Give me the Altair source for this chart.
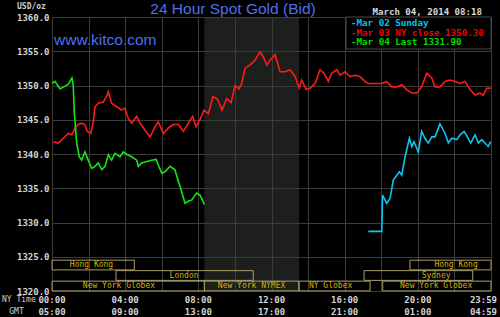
import altair as alt
import pandas as pd

# ---------------- data ----------------
# Mar 03 (NY close 1350.30) - red, hours NY time
red_h = [0.07, 0.34, 0.62, 0.89, 1.08, 1.26, 1.44, 1.62, 1.80, 1.93, 2.12, 2.26, 2.35, 2.53, 2.80,
         2.99, 3.08, 3.26, 3.54, 3.81, 3.99, 4.17, 4.36, 4.63, 4.81, 5.08, 5.36, 5.63, 5.81, 6.09,
         6.36, 6.63, 6.91, 7.18, 7.45, 7.69, 7.87, 8.09, 8.31, 8.55, 8.80, 9.05, 9.29, 9.55, 9.79,
         10.01, 10.22, 10.37, 10.55, 10.83, 11.10, 11.37, 11.55, 11.74, 11.92, 12.19, 12.47, 12.74,
         13.01, 13.29, 13.52, 13.65, 13.89, 14.11, 14.38, 14.65, 14.87, 15.11, 15.29, 15.57, 15.75,
         16.02, 16.29, 16.57, 16.84, 17.11, 17.29, 18.03, 18.30, 18.57, 18.85, 19.12, 19.39, 19.67,
         19.94, 20.21, 20.49, 20.76, 20.94, 21.21, 21.49, 21.76, 22.03, 22.31, 22.58, 22.85, 23.13,
         23.40, 23.58, 23.77, 23.99]
red_v = [1341.8, 1341.6, 1342.3, 1343.0, 1342.8, 1343.8, 1344.3, 1344.5, 1344.3, 1343.3, 1343.0,
         1344.7, 1346.9, 1347.4, 1347.6, 1348.4, 1349.1, 1347.4, 1346.9, 1346.4, 1346.7, 1345.2,
         1344.5, 1345.5, 1344.5, 1343.5, 1342.5, 1344.0, 1344.7, 1343.0, 1343.8, 1344.3, 1344.3,
         1343.3, 1344.5, 1345.5, 1344.0, 1345.0, 1346.4, 1345.9, 1348.4, 1348.0, 1346.4, 1348.1,
         1347.5, 1350.0, 1349.5, 1350.3, 1352.5, 1353.0, 1353.7, 1354.9, 1354.2, 1353.0, 1353.7,
         1354.5, 1352.0, 1352.0, 1352.3, 1351.3, 1349.6, 1350.8, 1349.4, 1349.6, 1350.3, 1352.3,
         1351.8, 1350.6, 1351.8, 1352.3, 1351.5, 1352.0, 1351.3, 1351.5, 1351.3, 1350.6, 1350.3,
         1350.3, 1350.6, 1349.8, 1349.8, 1350.1, 1349.4, 1348.9, 1348.9, 1349.8, 1351.8, 1351.1,
         1349.8, 1349.8, 1350.6, 1350.8, 1350.6, 1350.3, 1350.6, 1349.4, 1348.6, 1348.9, 1348.6,
         1349.6, 1349.6]

# Mar 04 (Last 1331.90) - green
green_h = [0.0, 0.16, 0.44, 0.71, 0.89, 1.09, 1.16, 1.22, 1.35, 1.49, 1.62, 1.80, 1.98, 2.17, 2.35,
           2.53, 2.72, 2.90, 3.08, 3.26, 3.44, 3.72, 3.90, 4.12, 4.36, 4.63, 4.72, 4.90, 5.18, 5.45,
           5.69, 5.81, 6.00, 6.18, 6.45, 6.72, 6.91, 7.09, 7.27, 7.45, 7.64, 7.91, 8.09, 8.22, 8.33]
green_v = [1350.3, 1350.6, 1349.5, 1349.9, 1350.2, 1351.1, 1350.1, 1346.0, 1341.6, 1339.6, 1339.1,
           1340.3, 1339.1, 1337.9, 1338.2, 1338.7, 1337.7, 1338.2, 1339.9, 1339.1, 1340.1, 1339.6,
           1340.3, 1339.9, 1339.6, 1339.1, 1338.2, 1338.7, 1338.9, 1339.1, 1339.2, 1338.4, 1337.2,
           1337.4, 1338.2, 1337.7, 1336.0, 1334.5, 1332.8, 1333.1, 1333.3, 1334.3, 1334.0, 1333.3,
           1332.6]

# Mar 02 (Sunday) - cyan
cyan_h = [17.29, 18.03, 18.07, 18.30, 18.48, 18.66, 18.85, 18.99, 19.12, 19.30, 19.54, 19.67, 19.79,
          20.03, 20.21, 20.39, 20.57, 20.76, 20.94, 21.21, 21.49, 21.67, 21.85, 22.13, 22.31, 22.53,
          22.71, 22.89, 23.13, 23.31, 23.49, 23.67, 23.85, 23.98]
cyan_v = [1328.7, 1328.7, 1334.0, 1332.8, 1333.5, 1336.2, 1336.9, 1337.4, 1336.9, 1339.6, 1342.3,
          1341.1, 1341.8, 1340.3, 1343.3, 1342.3, 1341.6, 1342.5, 1342.5, 1344.4, 1343.0, 1341.6,
          1342.3, 1342.1, 1342.8, 1343.3, 1342.5, 1341.6, 1342.8, 1341.6, 1342.1, 1341.6, 1341.1,
          1341.8]

series_names = ["Mar 02", "Mar 03", "Mar 04"]
series_colors = ["#10c4f0", "#ff1a1a", "#14e614"]
legend_texts = ["-Mar 02 Sunday", "-Mar 03 NY close 1350.30", "-Mar 04 Last 1331.90"]
legend_colors = ["#00c0ec", "#ee0000", "#00d800"]

# trading sessions (NY time hours)
sess_start = [0.0, 19.57, 3.5, 17.06, 0.0, 8.33, 13.5, 18.08]
sess_end = [4.5, 24.0, 11.0, 23.0, 8.33, 13.5, 17.39, 24.0]
sess_row = [0, 0, 1, 1, 2, 2, 2, 2]
sess_label = ["Hong Kong", "Hong Kong", "London", "Sydney", "New York Globex",
              "New York NYMEX", "NY Globex", "New York Globex"]
sess_label_h = [2.16, 22.09, 7.22, 21.0, 3.66, 10.91, 15.23, 21.0]

# NYMEX shaded period
shade_start = [8.33]
shade_end = [13.5]

# bottom time labels
tick_h = [0, 4, 8, 12, 16, 20]
ny_labels = ["00:00", "04:00", "08:00", "12:00", "16:00", "20:00"]
gmt_labels = ["05:00", "09:00", "13:00", "17:00", "21:00", "01:00"]
last_h = [24]
last_ny = ["23:59"]
last_gmt = ["04:59"]

# ---------------- tables ----------------
lines = pd.concat([
    pd.DataFrame({"h": red_h, "v": red_v, "s": series_names[1], "o": 0}),
    pd.DataFrame({"h": green_h, "v": green_v, "s": series_names[2], "o": 1}),
    pd.DataFrame({"h": cyan_h, "v": cyan_v, "s": series_names[0], "o": 2}),
])
sessions = pd.DataFrame({"h": sess_start, "h2": sess_end, "row": sess_row,
                         "label": sess_label, "lh": sess_label_h})
shade = pd.DataFrame({"h": shade_start, "h2": shade_end})
ticks = pd.DataFrame({"h": tick_h, "ny": ny_labels, "gmt": gmt_labels})
last = pd.DataFrame({"h": last_h, "ny": last_ny, "gmt": last_gmt})
one = pd.DataFrame({"a": [0]})

W, H = 439, 274
MONO = "DejaVu Sans Mono"
GRID = "#3c3c3c"

xscale = alt.Scale(domain=[0, 24], nice=False, zero=False)
yscale = alt.Scale(domain=[1320, 1360], nice=False, zero=False)
xaxis = alt.Axis(values=list(range(0, 25, 2)), labels=False, ticks=False, domain=False,
                 grid=True, gridColor=GRID, gridWidth=1, title=None)
yaxis = alt.Axis(values=list(range(1320, 1361, 5)), format=".1f", ticks=False, domain=False,
                 grid=True, gridColor=GRID, gridWidth=1, title=None, labelFont=MONO,
                 labelFontSize=9, labelFontWeight="bold", labelColor="#d4d4d4",
                 labelPadding=3, labelBaseline="middle")

X = lambda f: alt.X(f"{f}:Q", scale=xscale, axis=xaxis)
Y = lambda f: alt.Y(f"{f}:Q", scale=yscale, axis=yaxis)

shade_layer = alt.Chart(shade).mark_rect(color="#3a3e3a", opacity=0.5).encode(
    x=X("h"), x2="h2", y=alt.value(0), y2=alt.value(H))

sess_base = alt.Chart(sessions).transform_calculate(
    top="1324.5 - datum.row * 1.53",
    bot="1324.5 - datum.row * 1.53 - 1.42",
    mid="1324.5 - datum.row * 1.53 - 0.71",
)
sess_rect = sess_base.mark_rect(fill="transparent", stroke="#a89e68", strokeWidth=1).encode(
    x=X("h"), x2="h2", y=Y("top"), y2="bot:Q")
sess_text = sess_base.mark_text(font=MONO, fontSize=8, color="#d8b000", baseline="middle").encode(
    x=X("lh"), y=Y("mid"), text="label:N")

line_layer = alt.Chart(lines).mark_line(strokeWidth=1.6, interpolate="linear").encode(
    x=X("h"),
    y=Y("v"),
    color=alt.Color("s:N", scale=alt.Scale(domain=series_names, range=series_colors), legend=None),
    detail="s:N",
    order="o:Q",
)

def label(text, x, y, **kw):
    return alt.Chart(one).mark_text(text=text, **kw).encode(x=alt.value(x), y=alt.value(y))

legend_box = alt.Chart(one).mark_rect(fill="#000000", stroke="#4a4a4a", strokeWidth=1).encode(
    x=alt.value(294), x2=alt.value(W), y=alt.value(0), y2=alt.value(32))
leg_kw = dict(font=MONO, fontSize=9.2, fontWeight="bold", align="left", baseline="middle")
legend_rows = [
    label(legend_texts[i], 299, [6.0, 15.7, 25.3][i], color=legend_colors[i], **leg_kw)
    for i in range(3)
]

title = label("24 Hour Spot Gold (Bid)", 181, -8, font="Liberation Sans", fontSize=15.5,
              color="#4f6fef", align="center", baseline="middle")
kitco = label("www.kitco.com", 2, 22.5, font="Liberation Sans", fontSize=15.5,
              color="#4f6fef", align="left", baseline="middle")
date = label("March 04, 2014 08:18", 320.5, -5, font=MONO, fontSize=9.1, fontWeight="bold",
             color="#d8d8d8", align="left", baseline="middle")
usd = label("USD/oz", -35, -10.5, font=MONO, fontSize=8, fontWeight="bold",
            color="#d0d0d0", align="left", baseline="middle")
nyt = label("NY Time", -50, 283, font=MONO, fontSize=8, color="#d0d0d0",
            align="left", baseline="middle")
gmt = label("GMT", -35.5, 294.5, font=MONO, fontSize=8, color="#d0d0d0",
            align="center", baseline="middle")

tick_kw = dict(font=MONO, fontSize=9, fontWeight="bold", color="#d4d4d4", baseline="middle")
ny_text = alt.Chart(ticks).mark_text(align="center", **tick_kw).encode(
    x=X("h"), y=alt.value(283), text="ny:N")
gmt_text = alt.Chart(ticks).mark_text(align="center", **tick_kw).encode(
    x=X("h"), y=alt.value(294.5), text="gmt:N")
ny_last = alt.Chart(last).mark_text(align="right", dx=6, **tick_kw).encode(
    x=X("h"), y=alt.value(283), text="ny:N")
gmt_last = alt.Chart(last).mark_text(align="right", dx=6, **tick_kw).encode(
    x=X("h"), y=alt.value(294.5), text="gmt:N")

chart = alt.layer(
    shade_layer, sess_rect, sess_text, line_layer, legend_box, *legend_rows,
    title, kitco, date, usd, nyt, gmt, ny_text, gmt_text, ny_last, gmt_last,
).properties(
    width=W, height=H,
    padding={"left": 52, "top": 17, "right": 9, "bottom": 26},
    autosize=alt.AutoSizeParams(type="none"),
    background="#000000",
).configure_view(stroke=None)

chart.save("out.html", embed_options={"renderer": "svg", "actions": False})
